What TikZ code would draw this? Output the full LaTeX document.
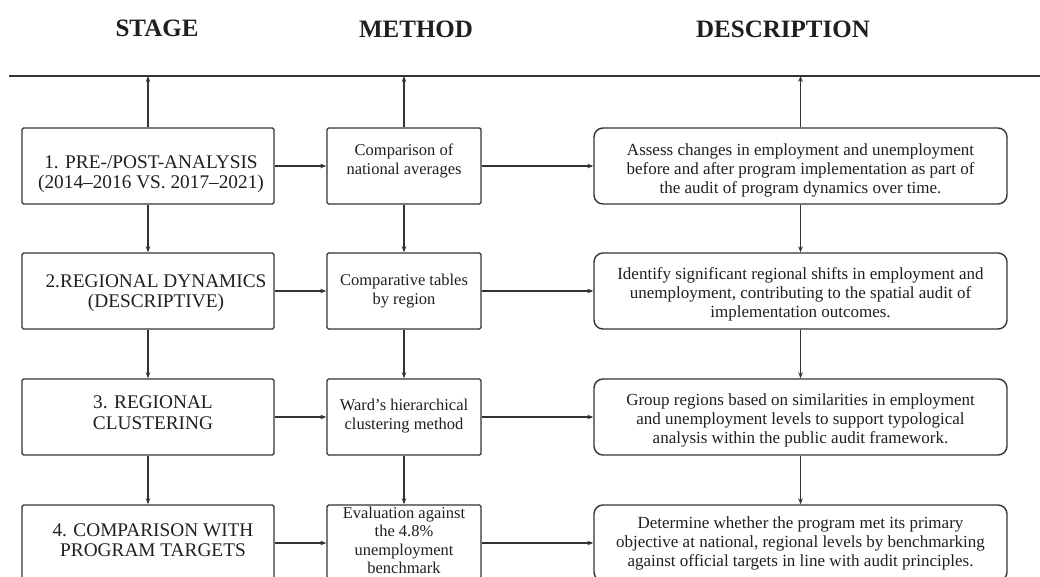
\documentclass[tikz,border=0pt]{standalone}
\usepackage{fontspec}
\setmainfont{Liberation Serif}
\usetikzlibrary{arrows.meta}
\definecolor{lc}{gray}{0.2}
\definecolor{tc}{gray}{0.12}
\begin{document}
\begin{tikzpicture}[x=1pt,y=-1pt,
  every node/.style={text=tc},
  title/.style={font=\fontsize{25}{28}\selectfont\bfseries, inner sep=0pt},
  stagebox/.style={draw=lc, line width=1.4pt, rounded corners=1.5pt, minimum width=252pt, minimum height=76pt, inner sep=0pt},
  methbox/.style={draw=lc, line width=1.4pt, rounded corners=1.5pt, minimum width=154pt, minimum height=76pt, inner sep=0pt},
  descbox/.style={draw=lc, line width=1.4pt, rounded corners=9pt, minimum width=413pt, minimum height=76pt, inner sep=0pt},
  stagetext/.style={align=center, font=\fontsize{19.3}{20.5}\selectfont, inner sep=0pt},
  methtext/.style={align=center, font=\fontsize{16.5}{19}\selectfont, inner sep=0pt},
  desctext/.style={align=center, font=\fontsize{17}{19}\selectfont, inner sep=0pt},
  conn/.style={draw=lc, line width=1.4pt, -{Stealth[length=6pt,width=4.5pt]}},
]
\useasboundingbox (0,0) rectangle (1040,577);

\node[title] (tstage) at (157,28) {STAGE};
\node[title] (tmeth) at (416,29) {METHOD};
\node[title] (tdesc) at (783,29) {DESCRIPTION};

\coordinate (L) at (9,76);
\coordinate (R) at (1040,76);
\draw[lc, line width=1.4pt] (L) -- (R);

% stage boxes
\node[stagebox] (s1) at (148,166) {};
\node[stagebox] (s2) at (148,291) {};
\node[stagebox] (s3) at (148,417) {};
\node[stagebox] (s4) at (148,543) {};
\node[stagetext] (s1t) at ([shift={(3,8)}]s1.center) {1. PRE-/POST-ANALYSIS\\(2014--2016 VS. 2017--2021)};
\node[stagetext] (s2t) at ([shift={(8,2)}]s2.center) {2.REGIONAL DYNAMICS\\(DESCRIPTIVE)};
\node[stagetext] (s3t) at ([shift={(5,-4.5)}]s3.center) {3. REGIONAL\\CLUSTERING};
\node[stagetext] (s4t) at ([shift={(5,-3)}]s4.center) {4. COMPARISON WITH\\PROGRAM TARGETS};

% method boxes
\node[methbox] (m1) at (404,166) {};
\node[methbox] (m2) at (404,291) {};
\node[methbox] (m3) at (404,417) {};
\node[methbox] (m4) at (404,543) {};
\node[methtext] (m1t) at ([shift={(0,-5)}]m1.center) {Comparison of\\national averages};
\node[methtext] (m2t) at ([shift={(0,0)}]m2.center) {Comparative tables\\by region};
\node[methtext] (m3t) at ([shift={(0,-1)}]m3.center) {Ward’s hierarchical\\clustering method};
\node[methtext, font=\fontsize{16.5}{18.5}\selectfont] (m4t) at ([shift={(0,-2.5)}]m4.center) {Evaluation against\\the 4.8\%\\unemployment\\benchmark};

% description boxes
\node[descbox] (d1) at (800.5,166) {};
\node[descbox] (d2) at (800.5,291) {};
\node[descbox] (d3) at (800.5,417) {};
\node[descbox] (d4) at (800.5,543) {};
\node[desctext] (d1t) at ([shift={(0,4)}]d1.center) {Assess changes in employment and unemployment\\before and after program implementation as part of\\the audit of program dynamics over time.};
\node[desctext] (d2t) at ([shift={(0,3)}]d2.center) {Identify significant regional shifts in employment and\\unemployment, contributing to the spatial audit of\\implementation outcomes.};
\node[desctext] (d3t) at ([shift={(0,3)}]d3.center) {Group regions based on similarities in employment\\and unemployment levels to support typological\\analysis within the public audit framework.};
\node[desctext] (d4t) at ([shift={(0,0)}]d4.center) {Determine whether the program met its primary\\objective at national, regional levels by benchmarking\\against official targets in line with audit principles.};

% arrows up to the line
\draw[conn] (s1.north) -- (s1.north |- L);
\draw[conn] (m1.north) -- (m1.north |- L);
\draw[conn] (d1.north) -- (d1.north |- L);

% vertical arrows
\foreach \a/\b in {s1/s2,s2/s3,s3/s4,m1/m2,m2/m3,m3/m4,d1/d2,d2/d3,d3/d4}
  \draw[conn] (\a.south) -- (\b.north);

% horizontal arrows
\foreach \i in {1,2,3,4}{
  \draw[conn] (s\i.east) -- (m\i.west);
  \draw[conn] (m\i.east) -- (d\i.west);
}
\end{tikzpicture}
\end{document}
